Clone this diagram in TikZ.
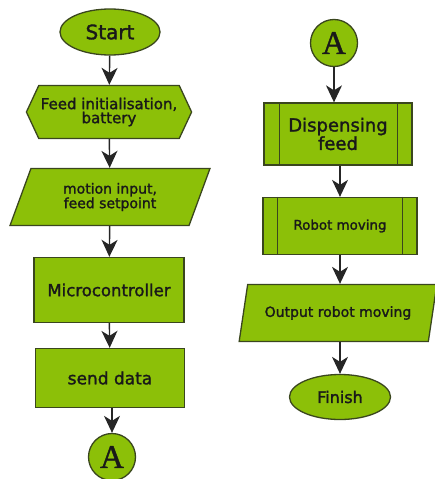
\documentclass[tikz,border=0pt]{standalone}
\usepackage{fontspec}
\setmainfont{DejaVu Sans}[BoldFont={DejaVu Sans}, BoldFeatures={FakeBold=1.6}]
\newfontfamily\letterfont{Liberation Serif}[FakeBold=1.2]
\usetikzlibrary{shapes.geometric,shapes.symbols,arrows.meta}
\definecolor{boxgreen}{RGB}{140,192,8}
\definecolor{boxline}{RGB}{58,70,30}
\tikzset{
  shape box/.style={draw=boxline, fill=boxgreen, line width=1.3pt, inner sep=2pt, align=center, text=black!90},
  terminal/.style={shape box, ellipse},
  prep/.style={shape box, signal, signal to=west and east, signal pointer angle=130},
  iobox/.style={shape box, trapezium, trapezium left angle=68, trapezium right angle=112, trapezium stretches=true},
  procbox/.style={shape box, rectangle},
  connector/.style={shape box, circle, minimum size=47pt, inner sep=0pt, font=\letterfont\fontsize{33}{33}\selectfont},
  arr/.style={draw=black!85, line width=1.4pt, -{Stealth[length=17pt,width=16pt,inset=5pt]}}
}
\begin{document}
\begin{tikzpicture}[x=1pt, y=-1pt]
  \useasboundingbox (0,0) rectangle (435,479);
  \node[terminal, minimum width=100pt, minimum height=46pt, font=\bfseries\fontsize{20}{20}\selectfont] (start) at (110,32) {Start};
  \node[prep, minimum width=163pt, minimum height=53pt, font=\bfseries\fontsize{15}{14}\selectfont] (init) at (109,112) {Feed initialisation,\\battery};
  \node[iobox, minimum width=200pt, minimum height=57pt, font=\bfseries\fontsize{14}{13}\selectfont] (input) at (110,197) {motion input,\\feed setpoint};
  \node[procbox, minimum width=150pt, minimum height=65pt, font=\bfseries\fontsize{16.5}{16}\selectfont] (micro) at (109,290) {Microcontroller};
  \node[procbox, minimum width=149pt, minimum height=59pt, font=\bfseries\fontsize{17}{17}\selectfont] (send) at (110,378) {send data};
  \node[connector] (outA) at (112,457) {A};
  \draw[arr] (start) -- (init);
  \draw[arr] (init) -- (input);
  \draw[arr] (input) -- (micro);
  \draw[arr] (micro) -- (send);
  \draw[arr] (send.south -| outA) -- (outA);
  \node[connector] (inA) at (334,43) {A};
  \node[procbox, minimum width=148pt, minimum height=62pt, font=\bfseries\fontsize{18}{15}\selectfont] (dispense) at (338,134) {Dispensing\\feed};
  \node[procbox, minimum width=154pt, minimum height=57pt, font=\bfseries\fontsize{13.4}{13}\selectfont] (robot) at (340,226) {Robot moving};
  \node[iobox, minimum width=198pt, minimum height=57pt, font=\bfseries\fontsize{14}{14}\selectfont] (output) at (338,313) {Output robot moving};
  \node[terminal, minimum width=101pt, minimum height=45pt, font=\bfseries\fontsize{16}{16}\selectfont] (finish) at (340,397) {Finish};
  \draw[boxline, line width=1.3pt] ([xshift=16pt]dispense.north west) -- ([xshift=16pt]dispense.south west);
  \draw[boxline, line width=1.3pt] ([xshift=-15pt]dispense.north east) -- ([xshift=-15pt]dispense.south east);
  \draw[boxline, line width=1.3pt] ([xshift=15pt]robot.north west) -- ([xshift=15pt]robot.south west);
  \draw[boxline, line width=1.3pt] ([xshift=-15pt]robot.north east) -- ([xshift=-15pt]robot.south east);
  \draw[arr] (inA) -- (inA |- dispense.north);
  \draw[arr] (dispense.south -| robot) -- (robot);
  \draw[arr] (robot) -- (robot |- output.north);
  \draw[arr] (output.south -| finish) -- (finish);
\end{tikzpicture}
\end{document}
